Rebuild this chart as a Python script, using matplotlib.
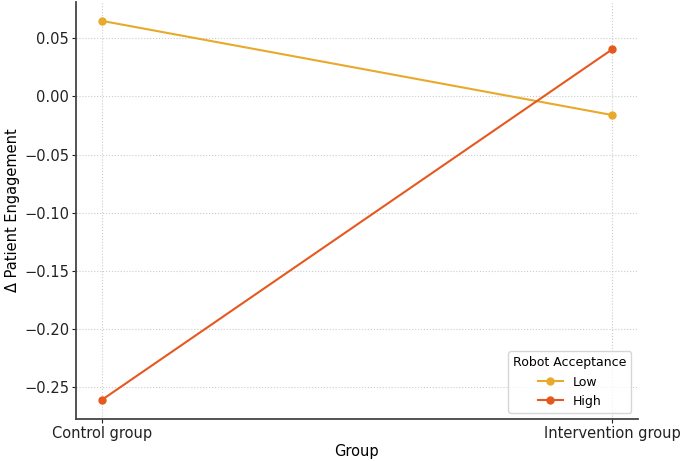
import matplotlib.pyplot as plt

groups = ['Control group', 'Intervention group']
low_values = [0.065, -0.016]
high_values = [-0.261, 0.0405]
series_labels = ['Low', 'High']
colors = ['#E9A92A', '#E5591F']

fig = plt.figure(figsize=(6.85, 4.61), dpi=100)
ax = fig.add_axes([0.111, 0.091, 0.82, 0.905])

x = range(len(groups))
ax.plot(x, low_values, marker='o', color=colors[0], label=series_labels[0], linewidth=1.5, markersize=5)
ax.plot(x, high_values, marker='o', color=colors[1], label=series_labels[1], linewidth=1.5, markersize=5)

ax.set_xticks(list(x))
ax.set_xticklabels(groups)
ax.tick_params(axis='both', labelsize=10.5, pad=2, length=3, colors='#222222')
ax.set_xlabel('Group', fontsize=10.5, labelpad=2)
ax.set_ylabel('Δ Patient Engagement', fontsize=10.5, labelpad=3)

ax.grid(True, linestyle=':', color='#cccccc', linewidth=0.8)
ax.spines['top'].set_visible(False)
ax.spines['right'].set_visible(False)
ax.spines['left'].set_linewidth(1.3)
ax.spines['bottom'].set_linewidth(1.3)
ax.spines['left'].set_color('#444444')
ax.spines['bottom'].set_color('#444444')

ax.legend(title='Robot Acceptance', loc='lower right', fontsize=9, title_fontsize=9)

fig.savefig('out.png', dpi=100)
